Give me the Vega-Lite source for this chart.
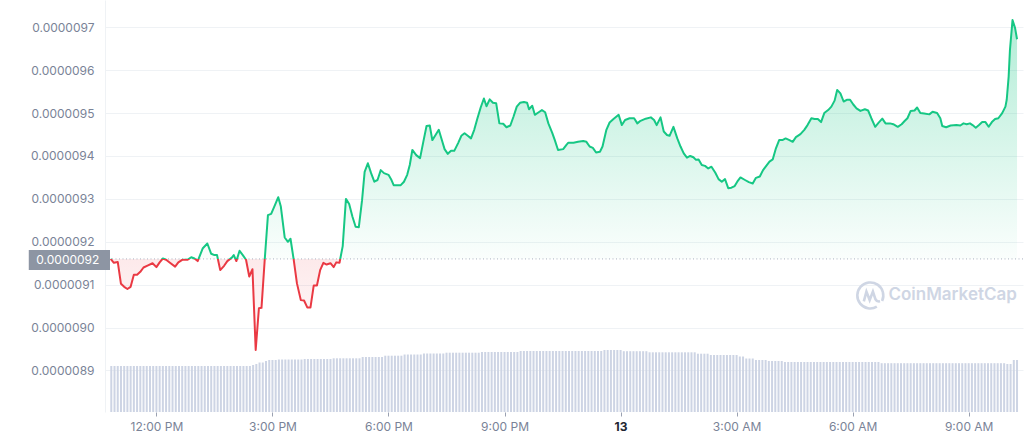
{
"$schema":"https://vega.github.io/schema/vega-lite/v6.json",
"width":918,"height":412,
"autosize":{"type":"none"},
"padding":{"left":105,"top":0,"right":1,"bottom":29},
"background":"white",
"config":{"view":{"stroke":null},"font":"Inter"},
"datasets":{
"price":[
{"t":"2022-10-12T10:49","p":9.160e-6},{"t":"2022-10-12T10:54","p":9.151e-6},{"t":"2022-10-12T11:00","p":9.153e-6},{"t":"2022-10-12T11:05","p":9.102e-6},{"t":"2022-10-12T11:10","p":9.095e-6},{"t":"2022-10-12T11:15","p":9.090e-6},{"t":"2022-10-12T11:20","p":9.095e-6},{"t":"2022-10-12T11:25","p":9.123e-6},{"t":"2022-10-12T11:30","p":9.123e-6},{"t":"2022-10-12T11:35","p":9.130e-6},{"t":"2022-10-12T11:40","p":9.140e-6},{"t":"2022-10-12T11:47","p":9.145e-6},{"t":"2022-10-12T11:54","p":9.150e-6},{"t":"2022-10-12T12:00","p":9.141e-6},{"t":"2022-10-12T12:05","p":9.152e-6},{"t":"2022-10-12T12:10","p":9.161e-6},{"t":"2022-10-12T12:15","p":9.158e-6},{"t":"2022-10-12T12:21","p":9.151e-6},{"t":"2022-10-12T12:29","p":9.142e-6},{"t":"2022-10-12T12:34","p":9.152e-6},{"t":"2022-10-12T12:40","p":9.158e-6},{"t":"2022-10-12T12:48","p":9.158e-6},{"t":"2022-10-12T12:54","p":9.164e-6},{"t":"2022-10-12T12:59","p":9.161e-6},{"t":"2022-10-12T13:04","p":9.155e-6},{"t":"2022-10-12T13:12","p":9.185e-6},{"t":"2022-10-12T13:19","p":9.196e-6},{"t":"2022-10-12T13:25","p":9.172e-6},{"t":"2022-10-12T13:30","p":9.169e-6},{"t":"2022-10-12T13:34","p":9.169e-6},{"t":"2022-10-12T13:39","p":9.134e-6},{"t":"2022-10-12T13:45","p":9.144e-6},{"t":"2022-10-12T13:50","p":9.155e-6},{"t":"2022-10-12T13:57","p":9.163e-6},{"t":"2022-10-12T14:00","p":9.169e-6},{"t":"2022-10-12T14:04","p":9.155e-6},{"t":"2022-10-12T14:09","p":9.179e-6},{"t":"2022-10-12T14:14","p":9.169e-6},{"t":"2022-10-12T14:19","p":9.158e-6},{"t":"2022-10-12T14:24","p":9.119e-6},{"t":"2022-10-12T14:29","p":9.136e-6},{"t":"2022-10-12T14:34","p":8.948e-6},{"t":"2022-10-12T14:39","p":9.045e-6},{"t":"2022-10-12T14:43","p":9.046e-6},{"t":"2022-10-12T14:48","p":9.158e-6},{"t":"2022-10-12T14:53","p":9.262e-6},{"t":"2022-10-12T14:58","p":9.265e-6},{"t":"2022-10-12T15:04","p":9.286e-6},{"t":"2022-10-12T15:09","p":9.304e-6},{"t":"2022-10-12T15:13","p":9.282e-6},{"t":"2022-10-12T15:19","p":9.210e-6},{"t":"2022-10-12T15:24","p":9.200e-6},{"t":"2022-10-12T15:28","p":9.207e-6},{"t":"2022-10-12T15:33","p":9.158e-6},{"t":"2022-10-12T15:38","p":9.103e-6},{"t":"2022-10-12T15:44","p":9.064e-6},{"t":"2022-10-12T15:49","p":9.063e-6},{"t":"2022-10-12T15:54","p":9.047e-6},{"t":"2022-10-12T15:59","p":9.047e-6},{"t":"2022-10-12T16:04","p":9.098e-6},{"t":"2022-10-12T16:09","p":9.098e-6},{"t":"2022-10-12T16:14","p":9.134e-6},{"t":"2022-10-12T16:19","p":9.151e-6},{"t":"2022-10-12T16:24","p":9.147e-6},{"t":"2022-10-12T16:30","p":9.150e-6},{"t":"2022-10-12T16:35","p":9.141e-6},{"t":"2022-10-12T16:39","p":9.152e-6},{"t":"2022-10-12T16:44","p":9.151e-6},{"t":"2022-10-12T16:49","p":9.190e-6},{"t":"2022-10-12T16:54","p":9.300e-6},{"t":"2022-10-12T16:59","p":9.288e-6},{"t":"2022-10-12T17:04","p":9.259e-6},{"t":"2022-10-12T17:09","p":9.235e-6},{"t":"2022-10-12T17:14","p":9.234e-6},{"t":"2022-10-12T17:19","p":9.297e-6},{"t":"2022-10-12T17:23","p":9.363e-6},{"t":"2022-10-12T17:28","p":9.383e-6},{"t":"2022-10-12T17:33","p":9.360e-6},{"t":"2022-10-12T17:38","p":9.340e-6},{"t":"2022-10-12T17:43","p":9.344e-6},{"t":"2022-10-12T17:48","p":9.367e-6},{"t":"2022-10-12T17:53","p":9.360e-6},{"t":"2022-10-12T18:00","p":9.356e-6},{"t":"2022-10-12T18:04","p":9.346e-6},{"t":"2022-10-12T18:08","p":9.332e-6},{"t":"2022-10-12T18:13","p":9.332e-6},{"t":"2022-10-12T18:19","p":9.332e-6},{"t":"2022-10-12T18:24","p":9.340e-6},{"t":"2022-10-12T18:29","p":9.356e-6},{"t":"2022-10-12T18:33","p":9.379e-6},{"t":"2022-10-12T18:37","p":9.414e-6},{"t":"2022-10-12T18:43","p":9.402e-6},{"t":"2022-10-12T18:49","p":9.395e-6},{"t":"2022-10-12T18:54","p":9.433e-6},{"t":"2022-10-12T18:59","p":9.470e-6},{"t":"2022-10-12T19:04","p":9.471e-6},{"t":"2022-10-12T19:08","p":9.437e-6},{"t":"2022-10-12T19:13","p":9.449e-6},{"t":"2022-10-12T19:18","p":9.461e-6},{"t":"2022-10-12T19:23","p":9.436e-6},{"t":"2022-10-12T19:27","p":9.416e-6},{"t":"2022-10-12T19:32","p":9.405e-6},{"t":"2022-10-12T19:37","p":9.412e-6},{"t":"2022-10-12T19:42","p":9.412e-6},{"t":"2022-10-12T19:48","p":9.430e-6},{"t":"2022-10-12T19:53","p":9.447e-6},{"t":"2022-10-12T19:58","p":9.453e-6},{"t":"2022-10-12T20:03","p":9.447e-6},{"t":"2022-10-12T20:08","p":9.441e-6},{"t":"2022-10-12T20:13","p":9.461e-6},{"t":"2022-10-12T20:18","p":9.488e-6},{"t":"2022-10-12T20:23","p":9.513e-6},{"t":"2022-10-12T20:28","p":9.534e-6},{"t":"2022-10-12T20:32","p":9.516e-6},{"t":"2022-10-12T20:37","p":9.532e-6},{"t":"2022-10-12T20:42","p":9.524e-6},{"t":"2022-10-12T20:47","p":9.523e-6},{"t":"2022-10-12T20:52","p":9.476e-6},{"t":"2022-10-12T20:58","p":9.475e-6},{"t":"2022-10-12T21:03","p":9.467e-6},{"t":"2022-10-12T21:09","p":9.471e-6},{"t":"2022-10-12T21:14","p":9.492e-6},{"t":"2022-10-12T21:19","p":9.515e-6},{"t":"2022-10-12T21:24","p":9.524e-6},{"t":"2022-10-12T21:30","p":9.526e-6},{"t":"2022-10-12T21:35","p":9.524e-6},{"t":"2022-10-12T21:38","p":9.509e-6},{"t":"2022-10-12T21:43","p":9.517e-6},{"t":"2022-10-12T21:47","p":9.496e-6},{"t":"2022-10-12T21:53","p":9.502e-6},{"t":"2022-10-12T21:58","p":9.507e-6},{"t":"2022-10-12T22:03","p":9.502e-6},{"t":"2022-10-12T22:08","p":9.476e-6},{"t":"2022-10-12T22:14","p":9.454e-6},{"t":"2022-10-12T22:18","p":9.437e-6},{"t":"2022-10-12T22:23","p":9.414e-6},{"t":"2022-10-12T22:31","p":9.416e-6},{"t":"2022-10-12T22:36","p":9.426e-6},{"t":"2022-10-12T22:39","p":9.431e-6},{"t":"2022-10-12T22:47","p":9.431e-6},{"t":"2022-10-12T22:54","p":9.433e-6},{"t":"2022-10-12T23:02","p":9.435e-6},{"t":"2022-10-12T23:07","p":9.433e-6},{"t":"2022-10-12T23:12","p":9.422e-6},{"t":"2022-10-12T23:17","p":9.419e-6},{"t":"2022-10-12T23:22","p":9.408e-6},{"t":"2022-10-12T23:28","p":9.410e-6},{"t":"2022-10-12T23:32","p":9.422e-6},{"t":"2022-10-12T23:38","p":9.461e-6},{"t":"2022-10-12T23:43","p":9.478e-6},{"t":"2022-10-12T23:49","p":9.486e-6},{"t":"2022-10-12T23:57","p":9.496e-6},{"t":"2022-10-13T00:02","p":9.472e-6},{"t":"2022-10-13T00:07","p":9.484e-6},{"t":"2022-10-13T00:14","p":9.488e-6},{"t":"2022-10-13T00:21","p":9.488e-6},{"t":"2022-10-13T00:26","p":9.476e-6},{"t":"2022-10-13T00:31","p":9.482e-6},{"t":"2022-10-13T00:39","p":9.487e-6},{"t":"2022-10-13T00:47","p":9.490e-6},{"t":"2022-10-13T00:52","p":9.484e-6},{"t":"2022-10-13T00:56","p":9.472e-6},{"t":"2022-10-13T01:02","p":9.490e-6},{"t":"2022-10-13T01:07","p":9.457e-6},{"t":"2022-10-13T01:12","p":9.449e-6},{"t":"2022-10-13T01:16","p":9.447e-6},{"t":"2022-10-13T01:22","p":9.468e-6},{"t":"2022-10-13T01:28","p":9.441e-6},{"t":"2022-10-13T01:33","p":9.422e-6},{"t":"2022-10-13T01:38","p":9.406e-6},{"t":"2022-10-13T01:43","p":9.396e-6},{"t":"2022-10-13T01:48","p":9.400e-6},{"t":"2022-10-13T01:53","p":9.397e-6},{"t":"2022-10-13T01:57","p":9.391e-6},{"t":"2022-10-13T02:01","p":9.392e-6},{"t":"2022-10-13T02:06","p":9.379e-6},{"t":"2022-10-13T02:11","p":9.377e-6},{"t":"2022-10-13T02:16","p":9.371e-6},{"t":"2022-10-13T02:21","p":9.375e-6},{"t":"2022-10-13T02:27","p":9.361e-6},{"t":"2022-10-13T02:32","p":9.346e-6},{"t":"2022-10-13T02:37","p":9.340e-6},{"t":"2022-10-13T02:42","p":9.346e-6},{"t":"2022-10-13T02:47","p":9.325e-6},{"t":"2022-10-13T02:52","p":9.326e-6},{"t":"2022-10-13T02:57","p":9.330e-6},{"t":"2022-10-13T03:01","p":9.340e-6},{"t":"2022-10-13T03:06","p":9.350e-6},{"t":"2022-10-13T03:13","p":9.344e-6},{"t":"2022-10-13T03:19","p":9.339e-6},{"t":"2022-10-13T03:25","p":9.336e-6},{"t":"2022-10-13T03:30","p":9.349e-6},{"t":"2022-10-13T03:36","p":9.352e-6},{"t":"2022-10-13T03:41","p":9.367e-6},{"t":"2022-10-13T03:46","p":9.377e-6},{"t":"2022-10-13T03:51","p":9.387e-6},{"t":"2022-10-13T03:56","p":9.392e-6},{"t":"2022-10-13T04:01","p":9.418e-6},{"t":"2022-10-13T04:06","p":9.437e-6},{"t":"2022-10-13T04:11","p":9.437e-6},{"t":"2022-10-13T04:16","p":9.441e-6},{"t":"2022-10-13T04:22","p":9.437e-6},{"t":"2022-10-13T04:27","p":9.433e-6},{"t":"2022-10-13T04:32","p":9.444e-6},{"t":"2022-10-13T04:39","p":9.451e-6},{"t":"2022-10-13T04:45","p":9.461e-6},{"t":"2022-10-13T04:50","p":9.472e-6},{"t":"2022-10-13T04:56","p":9.488e-6},{"t":"2022-10-13T05:01","p":9.486e-6},{"t":"2022-10-13T05:06","p":9.486e-6},{"t":"2022-10-13T05:11","p":9.479e-6},{"t":"2022-10-13T05:16","p":9.500e-6},{"t":"2022-10-13T05:22","p":9.507e-6},{"t":"2022-10-13T05:27","p":9.515e-6},{"t":"2022-10-13T05:32","p":9.529e-6},{"t":"2022-10-13T05:36","p":9.554e-6},{"t":"2022-10-13T05:41","p":9.546e-6},{"t":"2022-10-13T05:46","p":9.527e-6},{"t":"2022-10-13T05:51","p":9.531e-6},{"t":"2022-10-13T05:56","p":9.531e-6},{"t":"2022-10-13T06:01","p":9.520e-6},{"t":"2022-10-13T06:06","p":9.511e-6},{"t":"2022-10-13T06:12","p":9.505e-6},{"t":"2022-10-13T06:19","p":9.509e-6},{"t":"2022-10-13T06:24","p":9.506e-6},{"t":"2022-10-13T06:29","p":9.488e-6},{"t":"2022-10-13T06:35","p":9.468e-6},{"t":"2022-10-13T06:40","p":9.477e-6},{"t":"2022-10-13T06:46","p":9.487e-6},{"t":"2022-10-13T06:51","p":9.476e-6},{"t":"2022-10-13T06:58","p":9.476e-6},{"t":"2022-10-13T07:03","p":9.474e-6},{"t":"2022-10-13T07:10","p":9.468e-6},{"t":"2022-10-13T07:16","p":9.474e-6},{"t":"2022-10-13T07:21","p":9.482e-6},{"t":"2022-10-13T07:25","p":9.488e-6},{"t":"2022-10-13T07:30","p":9.505e-6},{"t":"2022-10-13T07:36","p":9.506e-6},{"t":"2022-10-13T07:40","p":9.513e-6},{"t":"2022-10-13T07:45","p":9.500e-6},{"t":"2022-10-13T07:51","p":9.499e-6},{"t":"2022-10-13T07:59","p":9.497e-6},{"t":"2022-10-13T08:04","p":9.503e-6},{"t":"2022-10-13T08:11","p":9.500e-6},{"t":"2022-10-13T08:16","p":9.488e-6},{"t":"2022-10-13T08:19","p":9.470e-6},{"t":"2022-10-13T08:25","p":9.467e-6},{"t":"2022-10-13T08:32","p":9.471e-6},{"t":"2022-10-13T08:41","p":9.472e-6},{"t":"2022-10-13T08:47","p":9.471e-6},{"t":"2022-10-13T08:52","p":9.476e-6},{"t":"2022-10-13T08:57","p":9.474e-6},{"t":"2022-10-13T09:02","p":9.476e-6},{"t":"2022-10-13T09:06","p":9.472e-6},{"t":"2022-10-13T09:11","p":9.466e-6},{"t":"2022-10-13T09:16","p":9.472e-6},{"t":"2022-10-13T09:21","p":9.479e-6},{"t":"2022-10-13T09:26","p":9.479e-6},{"t":"2022-10-13T09:31","p":9.468e-6},{"t":"2022-10-13T09:36","p":9.479e-6},{"t":"2022-10-13T09:41","p":9.486e-6},{"t":"2022-10-13T09:46","p":9.488e-6},{"t":"2022-10-13T09:52","p":9.500e-6},{"t":"2022-10-13T09:57","p":9.515e-6},{"t":"2022-10-13T09:59","p":9.531e-6},{"t":"2022-10-13T10:02","p":9.585e-6},{"t":"2022-10-13T10:04","p":9.647e-6},{"t":"2022-10-13T10:08","p":9.717e-6},{"t":"2022-10-13T10:12","p":9.698e-6},{"t":"2022-10-13T10:15","p":9.672e-6}
],
"vol":[
{"t":"2022-10-12T10:50","v":46},{"t":"2022-10-12T10:55","v":46},{"t":"2022-10-12T11:00","v":46},{"t":"2022-10-12T11:05","v":46},{"t":"2022-10-12T11:10","v":46},{"t":"2022-10-12T11:15","v":46},{"t":"2022-10-12T11:20","v":46},{"t":"2022-10-12T11:25","v":46},{"t":"2022-10-12T11:30","v":46},{"t":"2022-10-12T11:35","v":46},{"t":"2022-10-12T11:40","v":46},{"t":"2022-10-12T11:45","v":46},{"t":"2022-10-12T11:50","v":46},{"t":"2022-10-12T11:55","v":46},
{"t":"2022-10-12T12:00","v":46},{"t":"2022-10-12T12:05","v":46},{"t":"2022-10-12T12:10","v":46},{"t":"2022-10-12T12:15","v":46},{"t":"2022-10-12T12:20","v":46},{"t":"2022-10-12T12:25","v":46},{"t":"2022-10-12T12:30","v":46},{"t":"2022-10-12T12:35","v":46},{"t":"2022-10-12T12:40","v":46},{"t":"2022-10-12T12:45","v":46},{"t":"2022-10-12T12:50","v":46},{"t":"2022-10-12T12:55","v":46},
{"t":"2022-10-12T13:00","v":46},{"t":"2022-10-12T13:05","v":46},{"t":"2022-10-12T13:10","v":46},{"t":"2022-10-12T13:15","v":46},{"t":"2022-10-12T13:20","v":46},{"t":"2022-10-12T13:25","v":46},{"t":"2022-10-12T13:30","v":46},{"t":"2022-10-12T13:35","v":46},{"t":"2022-10-12T13:40","v":46},{"t":"2022-10-12T13:45","v":46},{"t":"2022-10-12T13:50","v":46},{"t":"2022-10-12T13:55","v":46},
{"t":"2022-10-12T14:00","v":46},{"t":"2022-10-12T14:05","v":46},{"t":"2022-10-12T14:10","v":46},{"t":"2022-10-12T14:15","v":46},{"t":"2022-10-12T14:20","v":46},{"t":"2022-10-12T14:25","v":46},{"t":"2022-10-12T14:30","v":47},{"t":"2022-10-12T14:35","v":48},{"t":"2022-10-12T14:40","v":49.5},{"t":"2022-10-12T14:45","v":49.5},{"t":"2022-10-12T14:50","v":51},{"t":"2022-10-12T14:55","v":52},
{"t":"2022-10-12T15:00","v":52},{"t":"2022-10-12T15:05","v":52},{"t":"2022-10-12T15:10","v":52.5},{"t":"2022-10-12T15:15","v":52.5},{"t":"2022-10-12T15:20","v":52.5},{"t":"2022-10-12T15:25","v":52.5},{"t":"2022-10-12T15:30","v":52.5},{"t":"2022-10-12T15:35","v":52.5},{"t":"2022-10-12T15:40","v":52.5},{"t":"2022-10-12T15:45","v":52.5},{"t":"2022-10-12T15:50","v":53},{"t":"2022-10-12T15:55","v":53},
{"t":"2022-10-12T16:00","v":53},{"t":"2022-10-12T16:05","v":53},{"t":"2022-10-12T16:10","v":53},{"t":"2022-10-12T16:15","v":53},{"t":"2022-10-12T16:20","v":53},{"t":"2022-10-12T16:25","v":53},{"t":"2022-10-12T16:30","v":53},{"t":"2022-10-12T16:35","v":53.7},{"t":"2022-10-12T16:40","v":53.7},{"t":"2022-10-12T16:45","v":53.7},{"t":"2022-10-12T16:50","v":53.7},{"t":"2022-10-12T16:55","v":53.7},
{"t":"2022-10-12T17:00","v":53.7},{"t":"2022-10-12T17:05","v":53.7},{"t":"2022-10-12T17:10","v":53.7},{"t":"2022-10-12T17:15","v":53.7},{"t":"2022-10-12T17:20","v":55},{"t":"2022-10-12T17:25","v":55},{"t":"2022-10-12T17:30","v":55},{"t":"2022-10-12T17:35","v":55},{"t":"2022-10-12T17:40","v":55},{"t":"2022-10-12T17:45","v":55},{"t":"2022-10-12T17:50","v":55},{"t":"2022-10-12T17:55","v":56.3},
{"t":"2022-10-12T18:00","v":56.3},{"t":"2022-10-12T18:05","v":56.3},{"t":"2022-10-12T18:10","v":56.3},{"t":"2022-10-12T18:15","v":56.3},{"t":"2022-10-12T18:20","v":56.3},{"t":"2022-10-12T18:25","v":57.5},{"t":"2022-10-12T18:30","v":57.5},{"t":"2022-10-12T18:35","v":57.5},{"t":"2022-10-12T18:40","v":57.5},{"t":"2022-10-12T18:45","v":57.5},{"t":"2022-10-12T18:50","v":57.5},{"t":"2022-10-12T18:55","v":58.5},
{"t":"2022-10-12T19:00","v":58.5},{"t":"2022-10-12T19:05","v":58.5},{"t":"2022-10-12T19:10","v":58.5},{"t":"2022-10-12T19:15","v":58.5},{"t":"2022-10-12T19:20","v":58.5},{"t":"2022-10-12T19:25","v":58.5},{"t":"2022-10-12T19:30","v":59.3},{"t":"2022-10-12T19:35","v":59.3},{"t":"2022-10-12T19:40","v":59.3},{"t":"2022-10-12T19:45","v":59.3},{"t":"2022-10-12T19:50","v":59.3},{"t":"2022-10-12T19:55","v":59.3},
{"t":"2022-10-12T20:00","v":59.3},{"t":"2022-10-12T20:05","v":59.3},{"t":"2022-10-12T20:10","v":59.3},{"t":"2022-10-12T20:15","v":59.3},{"t":"2022-10-12T20:20","v":59.3},{"t":"2022-10-12T20:25","v":60},{"t":"2022-10-12T20:30","v":60},{"t":"2022-10-12T20:35","v":60},{"t":"2022-10-12T20:40","v":60},{"t":"2022-10-12T20:45","v":60},{"t":"2022-10-12T20:50","v":60},{"t":"2022-10-12T20:55","v":60},
{"t":"2022-10-12T21:00","v":60},{"t":"2022-10-12T21:05","v":60},{"t":"2022-10-12T21:10","v":60},{"t":"2022-10-12T21:15","v":60},{"t":"2022-10-12T21:20","v":60},{"t":"2022-10-12T21:25","v":61},{"t":"2022-10-12T21:30","v":61},{"t":"2022-10-12T21:35","v":61},{"t":"2022-10-12T21:40","v":61},{"t":"2022-10-12T21:45","v":61},{"t":"2022-10-12T21:50","v":61},{"t":"2022-10-12T21:55","v":61},
{"t":"2022-10-12T22:00","v":61},{"t":"2022-10-12T22:05","v":61},{"t":"2022-10-12T22:10","v":61},{"t":"2022-10-12T22:15","v":61},{"t":"2022-10-12T22:20","v":61},{"t":"2022-10-12T22:25","v":61},{"t":"2022-10-12T22:30","v":61},{"t":"2022-10-12T22:35","v":61},{"t":"2022-10-12T22:40","v":61},{"t":"2022-10-12T22:45","v":61},{"t":"2022-10-12T22:50","v":61},{"t":"2022-10-12T22:55","v":61},
{"t":"2022-10-12T23:00","v":61},{"t":"2022-10-12T23:05","v":61},{"t":"2022-10-12T23:10","v":61},{"t":"2022-10-12T23:15","v":61},{"t":"2022-10-12T23:20","v":61},{"t":"2022-10-12T23:25","v":61},{"t":"2022-10-12T23:30","v":61},{"t":"2022-10-12T23:35","v":62},{"t":"2022-10-12T23:40","v":62},{"t":"2022-10-12T23:45","v":62},{"t":"2022-10-12T23:50","v":62},{"t":"2022-10-12T23:55","v":62},
{"t":"2022-10-13T00:00","v":62},{"t":"2022-10-13T00:05","v":60.8},{"t":"2022-10-13T00:10","v":60.8},{"t":"2022-10-13T00:15","v":60.8},{"t":"2022-10-13T00:20","v":60.8},{"t":"2022-10-13T00:25","v":60.8},{"t":"2022-10-13T00:30","v":60.8},{"t":"2022-10-13T00:35","v":60.8},{"t":"2022-10-13T00:40","v":60.8},{"t":"2022-10-13T00:45","v":59.7},{"t":"2022-10-13T00:50","v":59.7},{"t":"2022-10-13T00:55","v":59.7},
{"t":"2022-10-13T01:00","v":59.7},{"t":"2022-10-13T01:05","v":59.7},{"t":"2022-10-13T01:10","v":59.7},{"t":"2022-10-13T01:15","v":59.7},{"t":"2022-10-13T01:20","v":59.7},{"t":"2022-10-13T01:25","v":59.7},{"t":"2022-10-13T01:30","v":59.7},{"t":"2022-10-13T01:35","v":59.7},{"t":"2022-10-13T01:40","v":59.7},{"t":"2022-10-13T01:45","v":59.7},{"t":"2022-10-13T01:50","v":59.7},{"t":"2022-10-13T01:55","v":59.7},
{"t":"2022-10-13T02:00","v":58.3},{"t":"2022-10-13T02:05","v":58.3},{"t":"2022-10-13T02:10","v":58.3},{"t":"2022-10-13T02:15","v":58.3},{"t":"2022-10-13T02:20","v":57},{"t":"2022-10-13T02:25","v":57},{"t":"2022-10-13T02:30","v":57},{"t":"2022-10-13T02:35","v":57},{"t":"2022-10-13T02:40","v":57},{"t":"2022-10-13T02:45","v":57},{"t":"2022-10-13T02:50","v":57},{"t":"2022-10-13T02:55","v":57},
{"t":"2022-10-13T03:00","v":57},{"t":"2022-10-13T03:05","v":55.5},{"t":"2022-10-13T03:10","v":55.5},{"t":"2022-10-13T03:15","v":53.5},{"t":"2022-10-13T03:20","v":53.5},{"t":"2022-10-13T03:25","v":53.5},{"t":"2022-10-13T03:30","v":52},{"t":"2022-10-13T03:35","v":52},{"t":"2022-10-13T03:40","v":52},{"t":"2022-10-13T03:45","v":52},{"t":"2022-10-13T03:50","v":51},{"t":"2022-10-13T03:55","v":51},
{"t":"2022-10-13T04:00","v":51},{"t":"2022-10-13T04:05","v":51},{"t":"2022-10-13T04:10","v":51},{"t":"2022-10-13T04:15","v":50},{"t":"2022-10-13T04:20","v":50},{"t":"2022-10-13T04:25","v":50},{"t":"2022-10-13T04:30","v":50},{"t":"2022-10-13T04:35","v":50},{"t":"2022-10-13T04:40","v":50},{"t":"2022-10-13T04:45","v":50},{"t":"2022-10-13T04:50","v":50},{"t":"2022-10-13T04:55","v":50},
{"t":"2022-10-13T05:00","v":50},{"t":"2022-10-13T05:05","v":50},{"t":"2022-10-13T05:10","v":50},{"t":"2022-10-13T05:15","v":50},{"t":"2022-10-13T05:20","v":50},{"t":"2022-10-13T05:25","v":50},{"t":"2022-10-13T05:30","v":50},{"t":"2022-10-13T05:35","v":50},{"t":"2022-10-13T05:40","v":50},{"t":"2022-10-13T05:45","v":50},{"t":"2022-10-13T05:50","v":50},{"t":"2022-10-13T05:55","v":50},
{"t":"2022-10-13T06:00","v":50},{"t":"2022-10-13T06:05","v":50},{"t":"2022-10-13T06:10","v":50},{"t":"2022-10-13T06:15","v":50},{"t":"2022-10-13T06:20","v":50},{"t":"2022-10-13T06:25","v":50},{"t":"2022-10-13T06:30","v":50},{"t":"2022-10-13T06:35","v":50},{"t":"2022-10-13T06:40","v":50},{"t":"2022-10-13T06:45","v":48.8},{"t":"2022-10-13T06:50","v":48.8},{"t":"2022-10-13T06:55","v":48.8},
{"t":"2022-10-13T07:00","v":48.8},{"t":"2022-10-13T07:05","v":48.8},{"t":"2022-10-13T07:10","v":48.8},{"t":"2022-10-13T07:15","v":48.8},{"t":"2022-10-13T07:20","v":48.8},{"t":"2022-10-13T07:25","v":48.8},{"t":"2022-10-13T07:30","v":48.8},{"t":"2022-10-13T07:35","v":48.8},{"t":"2022-10-13T07:40","v":48.8},{"t":"2022-10-13T07:45","v":48.8},{"t":"2022-10-13T07:50","v":48.8},{"t":"2022-10-13T07:55","v":48.8},
{"t":"2022-10-13T08:00","v":48.8},{"t":"2022-10-13T08:05","v":48.8},{"t":"2022-10-13T08:10","v":48.8},{"t":"2022-10-13T08:15","v":48.8},{"t":"2022-10-13T08:20","v":48.8},{"t":"2022-10-13T08:25","v":48.8},{"t":"2022-10-13T08:30","v":48.8},{"t":"2022-10-13T08:35","v":48.8},{"t":"2022-10-13T08:40","v":48.8},{"t":"2022-10-13T08:45","v":48.8},{"t":"2022-10-13T08:50","v":48.8},{"t":"2022-10-13T08:55","v":48.8},
{"t":"2022-10-13T09:00","v":48.8},{"t":"2022-10-13T09:05","v":48.8},{"t":"2022-10-13T09:10","v":48.8},{"t":"2022-10-13T09:15","v":48.8},{"t":"2022-10-13T09:20","v":48.8},{"t":"2022-10-13T09:25","v":48.8},{"t":"2022-10-13T09:30","v":48.8},{"t":"2022-10-13T09:35","v":48.8},{"t":"2022-10-13T09:40","v":48.8},{"t":"2022-10-13T09:45","v":48.8},{"t":"2022-10-13T09:50","v":48.8},{"t":"2022-10-13T09:55","v":48.8},
{"t":"2022-10-13T10:00","v":48},{"t":"2022-10-13T10:05","v":48},{"t":"2022-10-13T10:10","v":52},{"t":"2022-10-13T10:15","v":52}
]
},
"resolve":{"scale":{"y":"independent"},"axis":{"y":"independent"}},
"layer":[
{"data":{"name":"vol"},
 "mark":{"type":"bar","width":2,"color":"#cdd4e4"},
 "encoding":{
  "x":{"field":"t","type":"temporal",
   "scale":{"domain":[{"year":2022,"month":10,"date":12,"hours":10,"minutes":48},{"year":2022,"month":10,"date":13,"hours":10,"minutes":16,"seconds":30}]},
   "axis":{"title":null,"grid":false,"domain":false,"ticks":true,"tickSize":4,"tickColor":"#9aa1b1","labelPadding":5,"labelFont":"Inter","labelFontSize":12,"labelOverlap":false,"labelFlush":false,
    "values":[{"year":2022,"month":10,"date":12,"hours":12},{"year":2022,"month":10,"date":12,"hours":15},{"year":2022,"month":10,"date":12,"hours":18},{"year":2022,"month":10,"date":12,"hours":21},{"year":2022,"month":10,"date":13,"hours":0},{"year":2022,"month":10,"date":13,"hours":3},{"year":2022,"month":10,"date":13,"hours":6},{"year":2022,"month":10,"date":13,"hours":9}],
    "labelExpr":"hours(datum.value) == 0 ? timeFormat(datum.value, '%-d') : timeFormat(datum.value, '%-I:%M %p')",
    "labelColor":{"condition":{"test":"hours(datum.value) == 0","value":"#222531"},"value":"#7a8397"},
    "labelFontWeight":{"condition":{"test":"hours(datum.value) == 0","value":"bold"},"value":"normal"}}},
  "y":{"field":"v","type":"quantitative","scale":{"domain":[0,412],"nice":false,"zero":true},"axis":null}
 }
},
{"layer":[
 {"data":{"name":"price"},
  "mark":{"type":"area","color":{"gradient":"linear","x1":0,"y1":0,"x2":0,"y2":1,"stops":[{"offset":0,"color":"rgba(22,199,132,0.33)"},{"offset":0.7242,"color":"rgba(22,199,132,0.02)"},{"offset":0.7242,"color":"rgba(234,57,67,0.11)"},{"offset":1,"color":"rgba(234,57,67,0.02)"}]}},
  "encoding":{
   "x":{"field":"t","type":"temporal","scale":{"domain":[{"year":2022,"month":10,"date":12,"hours":10,"minutes":48},{"year":2022,"month":10,"date":13,"hours":10,"minutes":16,"seconds":30}]},"axis":{"title":null}},
   "y":{"field":"p","type":"quantitative","scale":{"domain":[8.8032e-6,9.7636e-6],"nice":false,"zero":false},"axis":{"title":null}},
   "y2":{"datum":9.16e-6}
  }
 },
 {"data":{"values":[{}]},
  "mark":{"type":"rule","color":"#aab2c0","strokeDash":[1,2.5],"strokeWidth":1},
  "encoding":{"y":{"datum":9.16e-6,"type":"quantitative","scale":{"domain":[8.8032e-6,9.7636e-6],"nice":false,"zero":false},"axis":{"title":null}}}
 },
 {"data":{"name":"price"},
  "mark":{"type":"line","strokeWidth":2,"strokeJoin":"round","stroke":{"gradient":"linear","x1":0,"y1":0,"x2":0,"y2":1,"stops":[{"offset":0,"color":"#16c784"},{"offset":0.7242,"color":"#16c784"},{"offset":0.7242,"color":"#ea3943"},{"offset":1,"color":"#ea3943"}]}},
  "encoding":{
   "x":{"field":"t","type":"temporal","scale":{"domain":[{"year":2022,"month":10,"date":12,"hours":10,"minutes":48},{"year":2022,"month":10,"date":13,"hours":10,"minutes":16,"seconds":30}]},"axis":{"title":null}},
   "y":{"field":"p","type":"quantitative","scale":{"domain":[8.8032e-6,9.7636e-6],"nice":false,"zero":false},
    "axis":{"title":null,"values":[8.9e-6,9.0e-6,9.1e-6,9.2e-6,9.3e-6,9.4e-6,9.5e-6,9.6e-6,9.7e-6],"format":".7f","ticks":false,"labelPadding":11,"labelFont":"Inter","labelFontSize":12,"labelColor":"#7a8397","grid":true,"gridColor":"#eff2f5","domain":true,"domainColor":"#eff2f5"}}
  }
 },
 {"data":{"values":[{}]},
  "mark":{"type":"rect","color":"#8d95a3"},
  "encoding":{
   "x":{"datum":{"year":2022,"month":10,"date":12,"hours":8,"minutes":42},"type":"temporal","scale":{"domain":[{"year":2022,"month":10,"date":12,"hours":10,"minutes":48},{"year":2022,"month":10,"date":13,"hours":10,"minutes":16,"seconds":30}]},"axis":{"title":null}},
   "x2":{"datum":{"year":2022,"month":10,"date":12,"hours":10,"minutes":48}},
   "y":{"datum":9.1809e-6,"type":"quantitative","scale":{"domain":[8.8032e-6,9.7636e-6],"nice":false,"zero":false},"axis":{"title":null}},
   "y2":{"datum":9.1342e-6}
  }
 },
 {"data":{"values":[{}]},
  "mark":{"type":"text","align":"right","baseline":"middle","color":"white","font":"Inter","fontSize":12},
  "encoding":{
   "x":{"datum":{"year":2022,"month":10,"date":12,"hours":10,"minutes":31,"seconds":30},"type":"temporal","scale":{"domain":[{"year":2022,"month":10,"date":12,"hours":10,"minutes":48},{"year":2022,"month":10,"date":13,"hours":10,"minutes":16,"seconds":30}]},"axis":{"title":null}},
   "y":{"datum":9.158e-6,"type":"quantitative","scale":{"domain":[8.8032e-6,9.7636e-6],"nice":false,"zero":false},"axis":{"title":null}},
   "text":{"value":"0.0000092"}
  }
 },
 {"data":{"values":[{}]},
  "mark":{"type":"point","filled":false,"size":676,"stroke":"#cfd6e4","strokeWidth":2.6,"opacity":1,"shape":"M0.906,0.423 A1,1 0 1 0 0.5,0.866 M-0.5,0.45 L-0.3,-0.3 L-0.05,0.35 L0.2,-0.3 L0.4,0.3 Q0.5,0.5 0.75,0.45"},
  "encoding":{
   "x":{"datum":{"year":2022,"month":10,"date":13,"hours":6,"minutes":27,"seconds":25},"type":"temporal","scale":{"domain":[{"year":2022,"month":10,"date":12,"hours":10,"minutes":48},{"year":2022,"month":10,"date":13,"hours":10,"minutes":16,"seconds":30}]},"axis":{"title":null}},
   "y":{"datum":9.0748e-6,"type":"quantitative","scale":{"domain":[8.8032e-6,9.7636e-6],"nice":false,"zero":false},"axis":{"title":null}}
  }
 },
 {"data":{"values":[{}]},
  "mark":{"type":"text","align":"left","baseline":"middle","color":"#cfd6e4","font":"Inter","fontSize":17,"fontWeight":600},
  "encoding":{
   "x":{"datum":{"year":2022,"month":10,"date":13,"hours":6,"minutes":55,"seconds":30},"type":"temporal","scale":{"domain":[{"year":2022,"month":10,"date":12,"hours":10,"minutes":48},{"year":2022,"month":10,"date":13,"hours":10,"minutes":16,"seconds":30}]},"axis":{"title":null}},
   "y":{"datum":9.0748e-6,"type":"quantitative","scale":{"domain":[8.8032e-6,9.7636e-6],"nice":false,"zero":false},"axis":{"title":null}},
   "text":{"value":"CoinMarketCap"}
  }
 }
]}
]
}
